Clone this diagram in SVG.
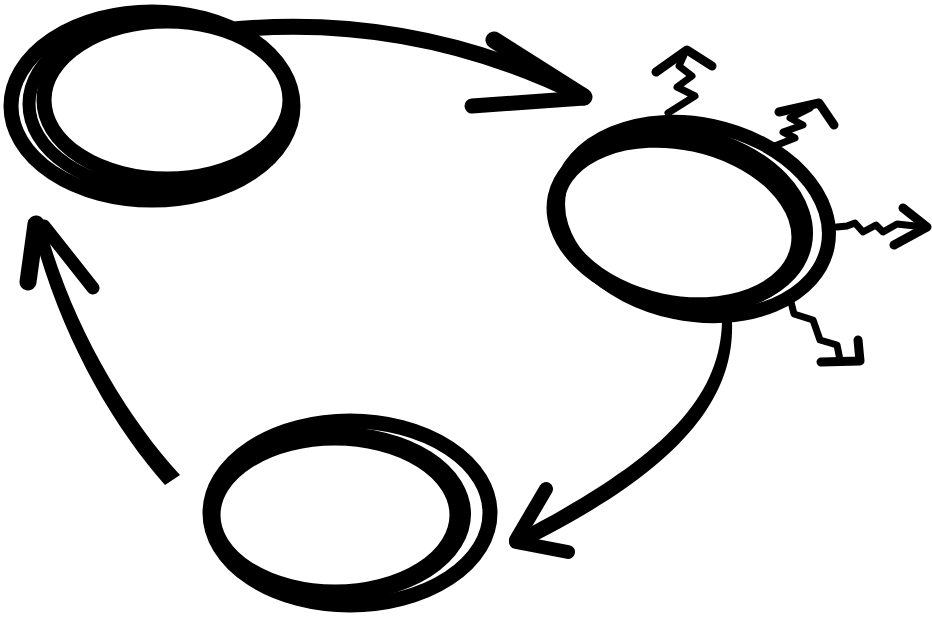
<svg xmlns="http://www.w3.org/2000/svg" width="932" height="617" viewBox="0 0 932 617">
<style>
.ring{fill:none;stroke:#000;}
.ln{fill:none;stroke:#000;stroke-linecap:round;stroke-linejoin:round;}
.sq{fill:none;stroke:#000;stroke-width:7;stroke-linecap:round;stroke-linejoin:round;}
.hd{fill:none;stroke:#000;stroke-width:9;stroke-linecap:round;stroke-linejoin:round;}
</style>
<rect width="932" height="617" fill="#fff"/>
<g id="node-top-left">
<ellipse class="ring" cx="152" cy="106" rx="141" ry="94" stroke-width="15"/>
<ellipse class="ring" cx="160" cy="104" rx="131" ry="86" stroke-width="13"/>
<ellipse class="ring" cx="167" cy="100" rx="123" ry="79" stroke-width="15"/>
</g>
<g id="node-right">
<ellipse class="ring" cx="693.5" cy="219" rx="137" ry="95" stroke-width="14" transform="rotate(12 693.5 219)"/>
<ellipse class="ring" cx="682" cy="219" rx="127.5" ry="87" stroke-width="10" transform="rotate(12 682 219)"/>
<ellipse class="ring" cx="677.5" cy="222.5" rx="124" ry="81" stroke-width="17" transform="rotate(12 677.5 222.5)"/>
<g id="emissions">
<path class="sq" d="M668,113 L695,96 L677,87 L692,76 L679,66 L684,55"/>
<path class="hd" d="M656,72 L687,50 L712,66"/>
<path class="sq" d="M772,147 L795,138 L783,132 L803,125 L790,118 L810,108"/>
<path class="hd" d="M779,112 L819,103 L834,125"/>
<path class="sq" d="M837,227 L847,226 L855,223 L863,232 L876,225 L883,232 L897,224 L924,227"/>
<path class="hd" d="M903,208 L927,227 L894,245"/>
<path class="sq" d="M790,298 L794,314 L813,320 L820,340 L837,345 L840,360"/>
<path class="hd" d="M821,362 L860,361 L858,340"/>
</g>
</g>
<g id="node-bottom">
<ellipse class="ring" cx="350" cy="513" rx="140" ry="92" stroke-width="15"/>
<ellipse class="ring" cx="338" cy="514" rx="128" ry="82" stroke-width="10"/>
<ellipse class="ring" cx="335" cy="515" rx="123" ry="78" stroke-width="17"/>
</g>
<g id="connectors">
<path class="ln" stroke-width="16" d="M228,30 C330,20 450,30 583,96"/>
<path fill="none" stroke="#fff" stroke-width="2" d="M398,47 Q450,60 505,80"/>
<path class="ln" stroke-width="17" d="M494,40 L584,97"/>
<path class="ln" stroke-width="15" d="M472,106 L584,98"/>
<path fill="#000" d="M165,485 C112,425 60,335 33,230 L45,227 C72,325 125,415 180,475 Z"/>
<path class="ln" stroke-width="17" d="M36,224 L28,282"/>
<path class="ln" stroke-width="13" d="M44,226 L93,288"/>
<path fill="#000" d="M722,322 C720,400 660,460 515,535 L522,548 C670,475 735,405 732,322 Z"/>
<path class="ln" stroke-width="14" d="M546,489 L516,540"/>
<path class="ln" stroke-width="14" d="M516,542 L568,552"/>
</g>
</svg>
